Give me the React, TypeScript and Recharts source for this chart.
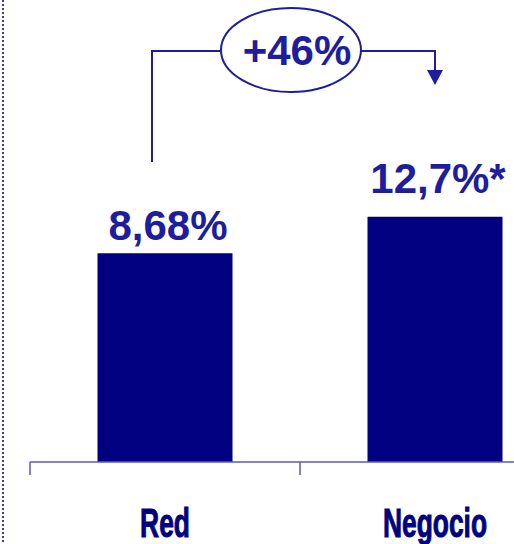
import React from "react";
import { BarChart, Bar, XAxis, YAxis, LabelList, Customized } from "recharts";

const categories = ["Red", "Negocio"];
const values = [8.68, 12.7];
const valueLabels = ["8,68%", "12,7%*"];
const changeLabel = "+46%";

const Y_MIN = -14.24;
const Y_MAX = 35.41;

const data = categories.map((c, i) => ({ name: c, value: values[i], label: valueLabels[i] }));

const TEXT_BLUE = "#1e1e9c";
const NAVY = "#000080";

const CategoryTick = (props: any) => {
  const { x, y, payload } = props;
  const half = payload.offset ?? 135;
  return (
    <g>
      <line x1={x - half} y1={y - 8} x2={x - half} y2={y + 5} stroke="#5a5ab8" strokeWidth={1.5} />
      <g transform={`translate(${x},${y + 67}) scale(0.66,1)`}>
        <text
          x={0}
          y={0}
          textAnchor="middle"
          fontFamily="'Liberation Sans', Arial, sans-serif"
          fontWeight="bold"
          fontSize={40}
          fill={NAVY}
          stroke={NAVY}
          strokeWidth={1}
        >
          {payload.value}
        </text>
      </g>
    </g>
  );
};

const ValueLabel = (props: any) => {
  const { x, y, width, index } = props;
  const gap = index === 0 ? 13 : 24;
  return (
    <text
      x={x + width / 2 + 3}
      y={y - gap}
      textAnchor="middle"
      fontFamily="'Liberation Sans', Arial, sans-serif"
      fontWeight="bold"
      fontSize={42}
      fill={TEXT_BLUE}
    >
      {valueLabels[index]}
    </text>
  );
};

const Annotation = () => (
  <g>
    <line x1={3} y1={0} x2={3} y2={544} stroke="#3838b0" strokeWidth={2} strokeDasharray="2 2" />
    <polyline points="152,162 152,51 221,51" fill="none" stroke={TEXT_BLUE} strokeWidth={2} />
    <polyline points="361,51 435,51 435,72" fill="none" stroke={TEXT_BLUE} strokeWidth={2} />
    <polygon points="427,70 443,70 435,85" fill={TEXT_BLUE} />
    <ellipse cx={291} cy={50} rx={70} ry={42} fill="#fff" stroke={TEXT_BLUE} strokeWidth={2} />
    <text
      x={297}
      y={65}
      textAnchor="middle"
      fontFamily="'Liberation Sans', Arial, sans-serif"
      fontWeight="bold"
      fontSize={42}
      fill={TEXT_BLUE}
    >
      {changeLabel}
    </text>
  </g>
);

export default function App() {
  return (
    <div style={{ position: "absolute", left: 0, top: 0, width: 514, height: 544, overflow: "hidden", background: "#fff" }}>
      <BarChart
        width={570}
        height={544}
        data={data}
        margin={{ top: 10, right: 0, bottom: 0, left: 30 }}
        barCategoryGap="25%"
      >
        <XAxis
          dataKey="name"
          height={82}
          axisLine={{ stroke: "#5a5ab8", strokeWidth: 1.5 }}
          tickLine={false}
          tick={<CategoryTick />}
          interval={0}
        />
        <YAxis hide type="number" domain={[Y_MIN, Y_MAX]} allowDataOverflow />
        <Bar dataKey={(d: any) => [Y_MIN, d.value]} fill={NAVY} isAnimationActive={false}>
          <LabelList content={<ValueLabel />} />
        </Bar>
        <Customized component={Annotation} />
      </BarChart>
    </div>
  );
}
